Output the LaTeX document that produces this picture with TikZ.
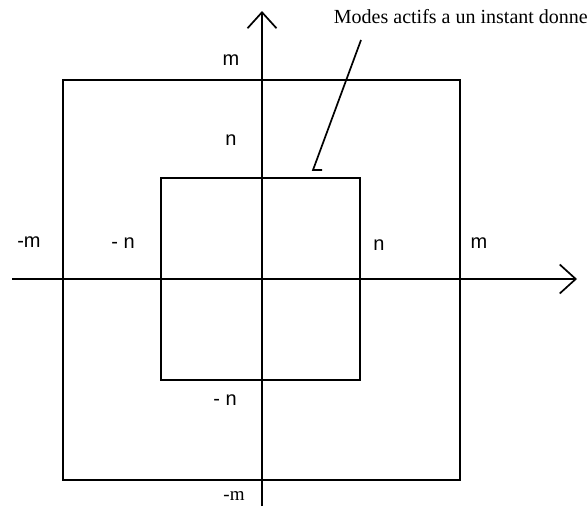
\documentclass[tikz,border=0pt]{standalone}
\usepackage{fontspec}
\setmainfont{Liberation Serif}
\setsansfont{Liberation Sans}
\usepackage{tikz}
\usetikzlibrary{arrows.meta}

\begin{document}
\begin{tikzpicture}[x=1pt, y=-1pt,
  axis/.style={line width=1.5pt, -{Straight Barb[length=16pt, width=29pt, line width=1.7pt]}},
  lbl/.style={font=\sffamily\fontsize{20}{20}\selectfont, inner sep=0pt}]
\useasboundingbox (0,0) rectangle (588,514);
% axes
\coordinate (xl) at (12,279);
\coordinate (xr) at (577,279);
\coordinate (yb) at (262,506);
\coordinate (yt) at (262,11);
\draw[axis] (xl) -- (xr);
\draw[axis] (yb) -- (yt);
% squares
\draw[line width=1.5pt] (63,80) rectangle (460,480);
\draw[line width=2.8pt] (161,178) rectangle (360,380);
% labels
\node[lbl] (mt) at (231,60) {m};
\node[lbl] (nt) at (231,140) {n};
\node[lbl] (ml) at (29,242) {-m};
\node[lbl] (nl) at (123,243) {- n};
\node[lbl] (nr) at (379,245) {n};
\node[lbl] (mr) at (479,243) {m};
\node[lbl] (nb) at (225,400) {- n};
\node[font=\fontsize{19}{19}\selectfont, inner sep=0pt] (mb) at (234,496) {-m};
% annotation
\node[font=\fontsize{20}{20}\selectfont, inner sep=0pt, anchor=east] (note) at (588,17) {Modes actifs a un instant donne};
\coordinate (from) at (361,40);
\coordinate (tip) at (313,170);
\draw[line width=1.7pt] (from) -- (tip) -- ++(9,0);
\end{tikzpicture}
\end{document}
